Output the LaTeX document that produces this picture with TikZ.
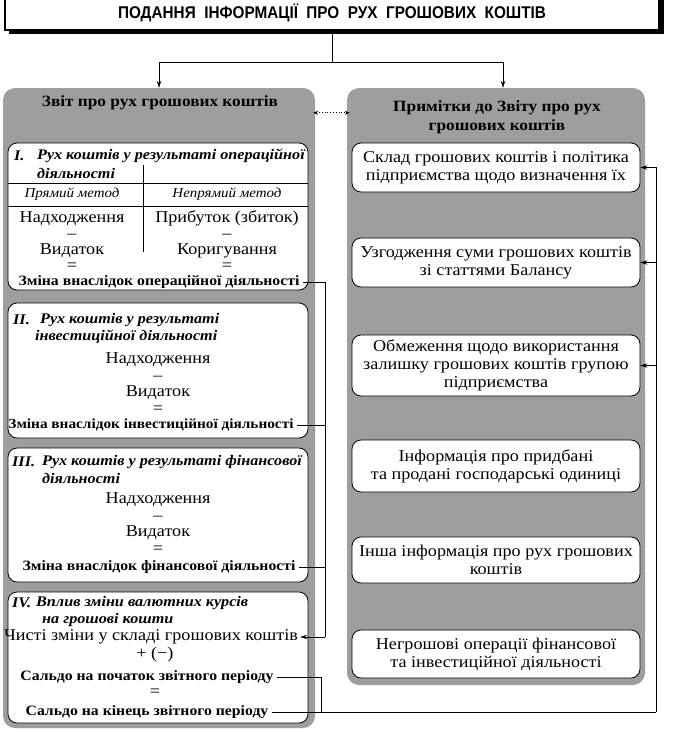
\documentclass[tikz,border=0pt]{standalone}
\usepackage{fontspec}
\setmainfont{Liberation Serif}[FakeStretch=1.1]
\newfontfamily\titlefont{Liberation Sans}[FakeStretch=0.9]
\usetikzlibrary{arrows.meta,calc}
\definecolor{panelgray}{gray}{0.62}
\tikzset{
  panel/.style={fill=panelgray, rounded corners=12pt, inner sep=0pt},
  wbox/.style={draw=black, line width=0.8pt, fill=white, rounded corners=9pt, inner sep=0pt},
  rbox/.style={wbox, minimum width=288pt, align=center, font=\fontsize{16.5}{18}\selectfont},
  txt/.style={inner sep=0pt, font=\fontsize{16.5}{17}\selectfont},
  col/.style={inner sep=0pt, align=center, font=\fontsize{16.5}{15.9}\selectfont},
  colb/.style={inner sep=0pt, align=center, font=\fontsize{16.5}{16.7}\selectfont},
  btxt/.style={inner sep=0pt, font=\fontsize{14.3}{17}\selectfont\bfseries},
  ptitle/.style={inner sep=1.5pt, align=center, font=\fontsize{15.7}{19.5}\selectfont\bfseries},
  hdr/.style={inner sep=0pt, anchor=west, font=\fontsize{14.7}{17}\selectfont\bfseries\itshape},
  itxt/.style={inner sep=0pt, font=\fontsize{13.6}{17}\selectfont\itshape},
  conn/.style={line width=0.8pt},
  arr/.style={line width=0.8pt, -{Stealth[length=7pt,width=4.5pt]}},
  dotarr/.style={line width=0.8pt, dotted, {Stealth[length=5pt,width=4pt]}-{Stealth[length=5pt,width=4pt]}}
}
\begin{document}
\begin{tikzpicture}[x=1pt,y=-1pt]
\useasboundingbox (0,0) rectangle (683,732);
\fill[white] (0,0) rectangle (683,732);
% title
\fill[black] (9,-6) rectangle (664,34);
\node[draw=black, line width=1.2pt, fill=white, minimum width=654pt, minimum height=34pt, inner sep=0pt,
  font=\titlefont\fontsize{17}{19}\selectfont\bfseries] (title) at (332,13) {ПОДАННЯ\ \ ІНФОРМАЦІЇ\ \ ПРО\ \ РУХ\ \ ГРОШОВИХ\ \ КОШТІВ};
% panels
\node[panel, minimum width=312pt, minimum height=640pt] (lp) at (159,408) {};
\node[panel, minimum width=298pt, minimum height=597pt] (rp) at (496,386.5) {};
\coordinate (tj) at ($(title.south)+(0,32)$);
\draw[conn] (title.south) -- (tj);
\draw[arr] (tj) -| (lp.north);
\draw[arr] (tj) -| ($(rp.north)+(7,0)$);
\draw[dotarr] ($(lp.north east)+(-2,25)$) -- ($(rp.north west)+(3,25)$);
% panel titles
\node[ptitle] (lpt) at (160,103) {Звіт про рух грошових коштів};
\node[ptitle] (rpt) at (497,117) {Примітки до Звіту про рух\\грошових коштів};
% ---- box I
\node[wbox, minimum width=300pt, minimum height=147pt] (b1) at (158,216.5) {};
\node[hdr] (h1n) at (14,156) {I.};
\node[hdr] (h1a) at (37,156) {Рух коштів у результаті операційної};
\node[hdr] (h1b) at (37,173) {діяльності};
\draw[conn] (b1.west |- 0,183) -- (b1.east |- 0,183);
\draw[conn] (b1.west |- 0,206) -- (b1.east |- 0,206);
\draw[conn] (143,165) -- (143,252);
\node[itxt] (pm) at (72,194) {Прямий метод};
\node[itxt] (npm) at (227,194) {Непрямий метод};
\node[col] (c1a) at (72,241) {Надходження\\–\\Видаток\\=};
\node[col] (c1b) at (227,240.5) {Прибуток (збиток)\\–\\Коригування\\=};
\node[btxt] (zop) at (159,282) {Зміна внаслідок операційної діяльності};
% ---- box II
\node[wbox, minimum width=300pt, minimum height=135pt] (b2) at (158,370.5) {};
\node[hdr] (h2n) at (13,320) {II.};
\node[hdr] (h2a) at (40,320) {Рух коштів у результаті};
\node[hdr] (h2b) at (35,337) {інвестиційної діяльності};
\node[colb] (c2) at (158,383) {Надходження\\–\\Видаток\\=};
\node[btxt, font=\fontsize{13.9}{17}\selectfont\bfseries] (zinv) at (151,425) {Зміна внаслідок інвестиційної діяльності};
% ---- box III
\node[wbox, minimum width=300pt, minimum height=134pt] (b3) at (158,515) {};
\node[hdr] (h3n) at (12,462) {III.};
\node[hdr] (h3a) at (42,462) {Рух коштів у результаті фінансової};
\node[hdr] (h3b) at (42,478) {діяльності};
\node[colb] (c3) at (158,523) {Надходження\\–\\Видаток\\=};
\node[btxt] (zfin) at (159,567) {Зміна внаслідок фінансової діяльності};
% ---- box IV
\node[wbox, minimum width=300pt, minimum height=131pt] (b4) at (158,657.5) {};
\node[hdr] (h4n) at (12,603) {IV.};
\node[hdr] (h4a) at (36,603) {Вплив зміни валютних курсів};
\node[hdr] (h4b) at (42,620) {на грошові кошти};
\node[txt] (chist) at (151,637) {Чисті зміни у складі грошових коштів};
\node[txt] (pm4) at (155,655) {+ (−)};
\node[btxt] (spoch) at (147,677) {Сальдо на початок звітного періоду};
\node[txt] (e4) at (155,693) {=};
\node[btxt] (skin) at (147,712) {Сальдо на кінець звітного періоду};
% ---- right boxes
\node[rbox, minimum height=49pt] (r1) at (496,167.5) {Склад грошових коштів і політика\\підприємства щодо визначення їх};
\node[rbox, minimum height=49pt] (r2) at (496,262.5) {Узгодження суми грошових коштів\\зі статтями Балансу};
\node[rbox, minimum height=61pt] (r3) at (496,365.5) {Обмеження щодо використання\\залишку грошових коштів групою\\підприємства};
\node[rbox, minimum height=52pt] (r4) at (496,466) {Інформація про придбані\\та продані господарські одиниці};
\node[rbox, minimum height=46pt] (r5) at (496,560) {Інша інформація про рух грошових\\коштів};
\node[rbox, minimum height=48pt] (r6) at (496,654) {Негрошові операції фінансової\\та інвестиційної діяльності};
% ---- connectors left
\coordinate (cj) at (325,637);
\draw[conn] ($(zop.east)+(3,0)$) -| (cj);
\draw[conn] ($(zinv.east)+(3,0)$) -- (zinv.east -| cj);
\draw[conn] ($(zfin.east)+(3,0)$) -- (zfin.east -| cj);
\draw[arr] (cj) -- ($(chist.east)+(2,0)$);
\coordinate (sj) at (321,712);
\coordinate (rj) at (656,712);
\draw[conn] ($(spoch.east)+(3,0)$) -| (sj);
\draw[conn] ($(skin.east)+(3,0)$) -- (rj);
\draw[arr] (rj) |- (r1.east);
\draw[arr] (r2.east -| rj) -- (r2.east);
\draw[arr] (r3.east -| rj) -- (r3.east);
\end{tikzpicture}
\end{document}
